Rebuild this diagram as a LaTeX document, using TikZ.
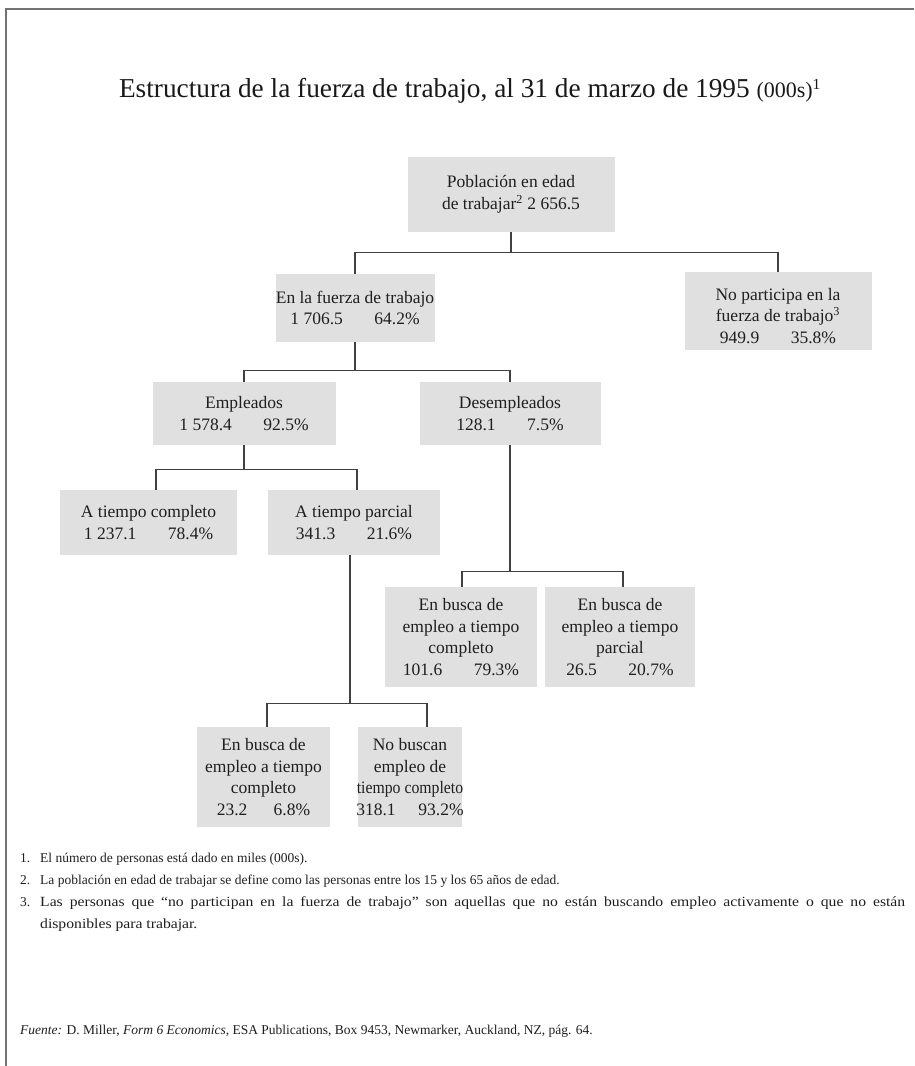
\documentclass[tikz,border=0pt]{standalone}
\usepackage{fontspec}
\usepackage{graphicx}
\setmainfont{Liberation Serif}
\newfontfamily\widefont[FakeStretch=1.12]{Liberation Serif}
\begin{document}
\begin{tikzpicture}[x=1pt,y=-1pt,
  bx/.style={fill=black!12, inner sep=0pt, align=center, font=\fontsize{17.5}{21.8}\selectfont, text=black!88},
  conn/.style={draw=black!75, line width=1.3pt},
  fn/.style={anchor=base west, inner sep=0pt, font=\fontsize{13.5}{21.5}\selectfont, text=black!88, align=left}]
\useasboundingbox (0,0) rectangle (914,1066);
\fill[white] (0,0) rectangle (914,1066);
\draw[draw=black!55, line width=2pt] (914,9) -- (6,9) -- (6,1066);
\node[anchor=base, inner sep=0pt, font=\fontsize{27.3}{30}\selectfont, text=black!90] (title) at (470,97)
  {Estructura de la fuerza de trabajo, al 31 de marzo de 1995 {\fontsize{22}{24}\selectfont(000s)\textsuperscript{1}}};
% boxes
\node[bx, minimum width=207pt, minimum height=75pt] (pob) at (511,194.5) {Población en edad\\de trabajar\textsuperscript{2} 2 656.5};
\node[bx, minimum width=159pt, minimum height=68pt] (fuerza) at (355,308) {En la fuerza de trabajo\\1 706.5\hspace{1.8em}64.2\%};
\node[bx, minimum width=187pt, minimum height=78pt] (nopart) at (778,311) {\rule{0pt}{22pt}No participa en la\\fuerza de trabajo\textsuperscript{3}\\949.9\hspace{1.8em}35.8\%};
\node[bx, minimum width=183pt, minimum height=63pt] (empl) at (244,413.5) {Empleados\\1 578.4\hspace{1.8em}92.5\%};
\node[bx, minimum width=181pt, minimum height=63pt] (desempl) at (510,413.5) {Desempleados\\128.1\hspace{1.8em}7.5\%};
\node[bx, minimum width=177pt, minimum height=65pt] (compl) at (148.5,522.5) {A tiempo completo\\1 237.1\hspace{1.8em}78.4\%};
\node[bx, minimum width=172pt, minimum height=65pt] (parc) at (354,522.5) {A tiempo parcial\\341.3\hspace{1.8em}21.6\%};
\node[bx, minimum width=152pt, minimum height=100pt] (bc1) at (461,637) {En busca de\\empleo a tiempo\\completo\\101.6\hspace{1.8em}79.3\%};
\node[bx, minimum width=150pt, minimum height=100pt] (bp1) at (620,637) {En busca de\\empleo a tiempo\\parcial\\26.5\hspace{1.8em}20.7\%};
\node[bx, minimum width=133pt, minimum height=100pt] (bc2) at (263.5,777) {En busca de\\empleo a tiempo\\completo\\23.2\hspace{1.5em}6.8\%};
\node[bx, minimum width=104pt, minimum height=100pt] (nob) at (410,777) {No buscan\\empleo de\\\makebox[100pt]{\scalebox{0.9}[1]{tiempo completo}}\\\makebox[100pt]{318.1\hspace{1.3em}93.2\%}};
% connectors
\draw[conn] (pob.south) -- ++(0,20) coordinate (b1);
\draw[conn] (fuerza.north) |- (b1) -| (nopart.north);
\draw[conn] (fuerza.south) -- ++(0,28) coordinate (b2);
\draw[conn] (empl.north) |- (b2) -| (desempl.north);
\draw[conn] (empl.south) -- ++(0,24) coordinate (b3);
\draw[conn] ([xshift=7.5pt]compl.north) |- (b3) -| ([xshift=3pt]parc.north);
\draw[conn] ([xshift=-4pt]parc.south) -- ++(0,148) coordinate (b4);
\draw[conn] ([xshift=3.5pt]bc2.north) |- (b4) -| ([xshift=17pt]nob.north);
\draw[conn] (desempl.south) -- ++(0,126) coordinate (b5);
\draw[conn] ([xshift=1pt]bc1.north) |- (b5) -| ([xshift=3pt]bp1.north);
% footnotes
\node[fn] (n1) at (20,862) {1.};
\node[fn] (t1) at (40,862) {El número de personas está dado en miles (000s).};
\node[fn] (n2) at (20,884) {2.};
\node[fn] (t2) at (40,884) {La población en edad de trabajar se define como las personas entre los 15 y los 65 años de edad.};
\node[fn] (n3) at (20,906) {3.};
\node[fn, font=\widefont\fontsize{14}{21.5}\selectfont] (t3) at (40,906) {\makebox[865pt][s]{Las personas que “no participan en la fuerza de trabajo” son aquellas que no están buscando empleo activamente o que no están}};
\node[fn, font=\widefont\fontsize{14}{21.5}\selectfont] (t3b) at (40,928) {disponibles para trabajar.};
\node[fn] (src) at (20,1034) {\textit{Fuente:} D. Miller, \textit{Form 6 Economics}, ESA Publications, Box 9453, Newmarker, Auckland, NZ, pág. 64.};
\end{tikzpicture}
\end{document}
